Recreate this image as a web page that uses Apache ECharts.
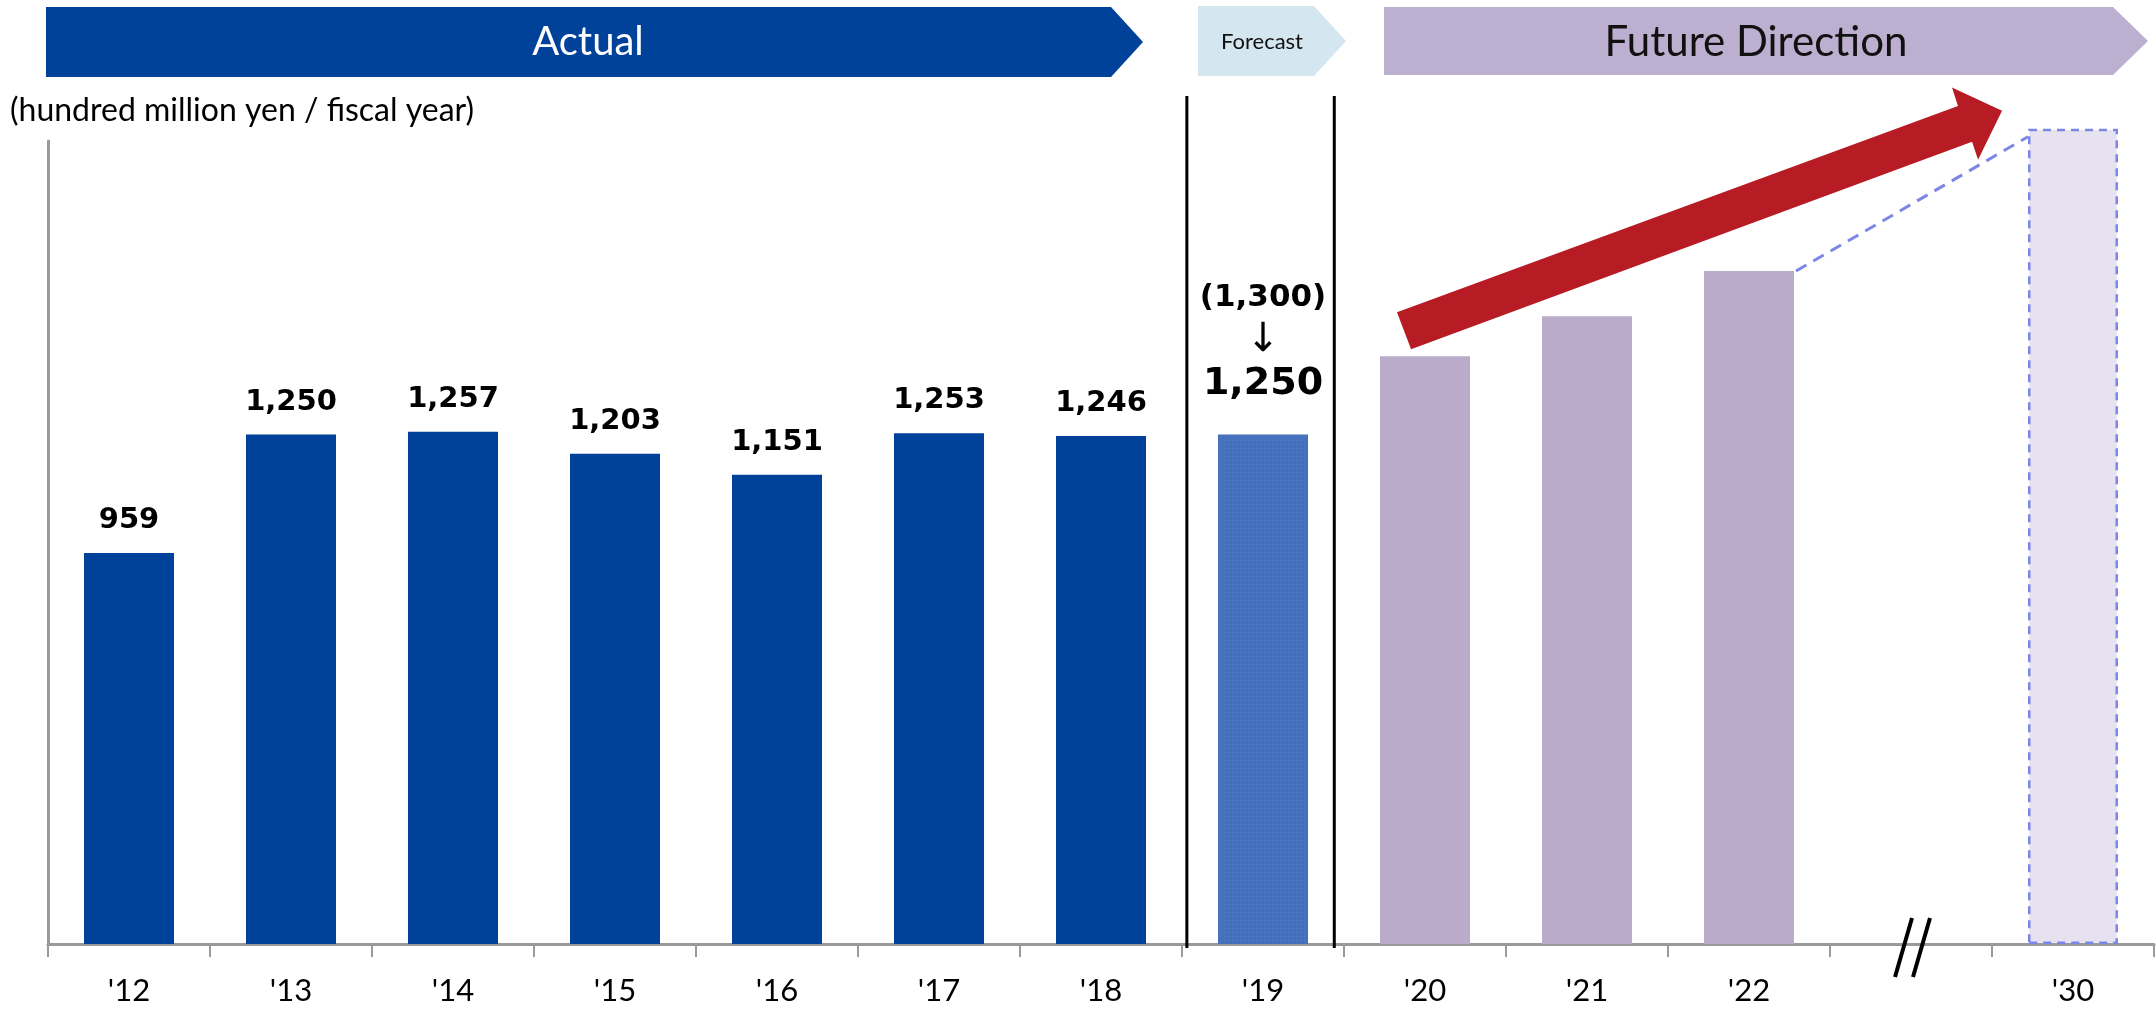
<!DOCTYPE html>
<html><head><meta charset="utf-8">
<script src="https://cdn.jsdelivr.net/npm/echarts@6/dist/echarts.min.js"></script>
<style>html,body{margin:0;padding:0;background:#fff}#c{width:2156px;height:1014px}</style>
</head><body><div id="c"></div>
<script>
const categories = ["'12","'13","'14","'15","'16","'17","'18","'19","'20","'21","'22","","'30"];
const actualValues = [959,1250,1257,1203,1151,1253,1246,'-','-','-','-','-','-'];
const forecastValues = ['-','-','-','-','-','-','-',1250,'-','-','-','-','-'];
const forecastOriginal = 1300;
const futureValues = ['-','-','-','-','-','-','-','-',1442,1540,1651,'-','-'];
const targetValues = ['-','-','-','-','-','-','-','-','-','-','-','-',2000];
const bannerLabels = ["Actual","Forecast","Future Direction"];
const unitLabel = "(hundred million yen / fiscal year)";

const fmt = v => Number(v).toLocaleString('en-US');
const chart = echarts.init(document.getElementById('c'), null, {renderer:'canvas'});
const BW = 90;
chart.setOption({
  animation:false,
  grid:{left:48, right:2, top:141, bottom:70, containLabel:false},
  xAxis:{type:'category', data:categories,
    axisLine:{lineStyle:{color:'#9a9a9a', width:3}},
    axisTick:{show:true, length:13, lineStyle:{color:'#9a9a9a', width:2}},
    axisLabel:{fontFamily:'Lato', fontSize:31, color:'#000', margin:31}},
  yAxis:{type:'value', min:0, max:1970,
    axisLine:{show:true, lineStyle:{color:'#9a9a9a', width:3}},
    axisTick:{show:false}, axisLabel:{show:false}, splitLine:{show:false}},
  series:[
    {type:'bar', name:'Actual', data:actualValues, barWidth:BW, barGap:'-100%',
      itemStyle:{color:'#00419A'},
      label:{show:true, position:'top', distance:18, fontFamily:'DejaVu Sans', fontWeight:'bold', fontSize:29, color:'#000',
        formatter:p=>fmt(p.value)}},
    {type:'bar', name:'Forecast', data:forecastValues, barWidth:BW, barGap:'-100%',
      itemStyle:{color:'#4570BE', decal:{symbol:'rect', symbolSize:1, color:'rgba(255,255,255,0.12)', dashArrayX:[1,3], dashArrayY:[1,3], rotation:0}},
      label:{show:true, position:'top', distance:28, align:'center',
        formatter:p=>'{a|('+fmt(forecastOriginal)+')}\n{b|↓}\n{c|'+fmt(p.value)+'}',
        rich:{a:{fontFamily:'DejaVu Sans', fontWeight:'bold', fontSize:31, lineHeight:42, color:'#000'},
              b:{fontFamily:'DejaVu Sans', fontSize:40, lineHeight:44, color:'#000'},
              c:{fontFamily:'DejaVu Sans', fontWeight:'bold', fontSize:38, lineHeight:44, color:'#000'}}}},
    {type:'bar', name:'Future', data:futureValues, barWidth:BW, barGap:'-100%',
      itemStyle:{color:'#BAABCB'}},
    {type:'bar', name:'Target', data:targetValues, barWidth:BW, barGap:'-100%', clip:false,
      itemStyle:{color:'#E6E2EF', borderColor:'#7C86E6', borderType:[8,6], borderWidth:2.5}}
  ]
});

const x0 = chart.convertToPixel({xAxisIndex:0}, 0);
const step = chart.convertToPixel({xAxisIndex:0}, 1) - x0;
const X = f => x0 + f*step;
const Y = v => chart.convertToPixel({yAxisIndex:0}, v);
const base = Y(0);

function banner(x1, x2, tip, y1, y2, fill){
  const ym=(y1+y2)/2;
  return {type:'polygon', shape:{points:[[x1,y1],[x2,y1],[tip,ym],[x2,y2],[x1,y2]]}, style:{fill:fill}, z:10};
}
const g = [];
g.push(banner(46,1111,1143,7,77,'#00419A'));
g.push({type:'text', x:588, y:42, z:11, style:{text:bannerLabels[0], font:'40px Lato', fill:'#fff', align:'center', verticalAlign:'middle'}});
g.push(banner(1198,1314,1346,6,76,'#D4E6F0'));
g.push({type:'text', x:1262, y:42, z:11, style:{text:bannerLabels[1], font:'22px Lato', fill:'#111', align:'center', verticalAlign:'middle'}});
g.push(banner(1384,2113,2148,7,75,'#BDAFCF'));
g.push({type:'text', x:1756, y:42, z:11, style:{text:bannerLabels[2], font:'42px Lato', fill:'#111', align:'center', verticalAlign:'middle'}});
g.push({type:'text', x:10, y:111, z:11, style:{text:unitLabel, font:'32px Lato', fill:'#000', align:'left', verticalAlign:'middle'}});
// separators
[6.53, 7.44].forEach(f=>{
  g.push({type:'line', shape:{x1:X(f), y1:96, x2:X(f), y2:base+4}, style:{stroke:'#000', lineWidth:3}, z:12});
});
// dashed connector from '22 top-right to '30 top-left
g.push({type:'line', shape:{x1:X(10)+BW/2+2, y1:Y(futureValues[10]), x2:X(12)-BW/2, y2:Y(targetValues[12])+8},
  style:{stroke:'#7C86E6', lineWidth:3, lineDash:[12,8]}, z:12});
// red arrow
const arrowPts = [[7.827,1550],[11.29,2056],[11.253,2101],[11.562,2044],[11.414,1924],[11.377,1968],[7.914,1459]];
g.push({type:'polygon', shape:{points:arrowPts.map(p=>[X(p[0]),Y(p[1])])}, style:{fill:'#B71C25'}, z:13});
// axis break marks
const bx = X(11);
g.push({type:'line', shape:{x1:bx-16, y1:977, x2:bx+1, y2:918}, style:{stroke:'#000', lineWidth:4}, z:13});
g.push({type:'line', shape:{x1:bx+2, y1:977, x2:bx+19, y2:918}, style:{stroke:'#000', lineWidth:4}, z:13});
chart.setOption({graphic:g});
</script></body></html>
